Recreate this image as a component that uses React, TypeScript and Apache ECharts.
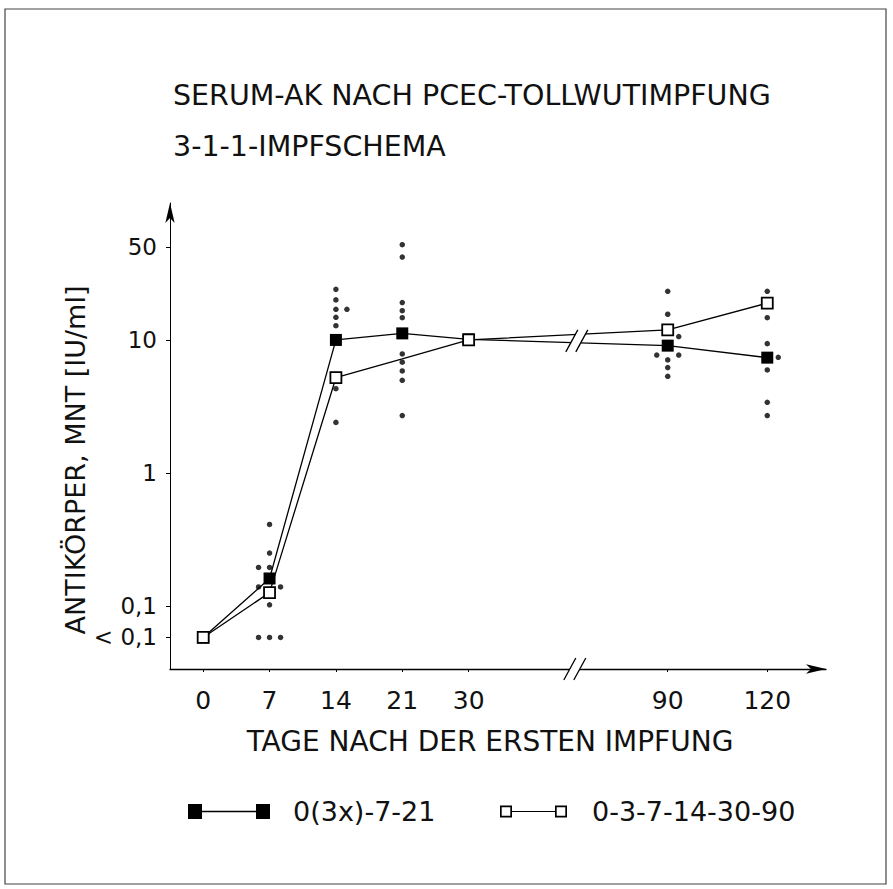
import React, { useEffect, useRef } from "react";
import * as echarts from "echarts";

// ---------- texts ----------
const titleLines = ["SERUM-AK NACH PCEC-TOLLWUTIMPFUNG", "3-1-1-IMPFSCHEMA"];
const xAxisName = "TAGE NACH DER ERSTEN IMPFUNG";
const yAxisName = "ANTIKÖRPER, MNT [IU/ml]";
const seriesNames = ["0(3x)-7-21", "0-3-7-14-30-90"];

// ---------- x axis (broken day scale) ----------
const days = ["0", "7", "14", "21", "30", "90", "120"];
// slot of each day on the broken axis (equal steps up to day 30, then a break)
const daySlots = [0, 1, 2, 3, 4, 7, 8.5];
const breakSlot = 5.63;

// ---------- y axis (log) ----------
const belowLimit = 0.058; // plotted level for "< 0,1"
const yTickValues = [belowLimit, 0.1, 1, 10, 50];
const yTickLabels = ["< 0,1", "0,1", "1", "10", "50"];
const yMin = 0.0336;
const yMax = 107;
const breakMarkLevel = 10;

// ---------- group means (IU/ml) ----------
const meansSchema1 = [belowLimit, 0.161, 10.0, 11.2, 10.1, 9.06, 7.36];
const meansSchema2 = [belowLimit, 0.126, 5.2, 7.2, 10.0, 11.9, 18.9];
const schema2MarkerShown = [true, true, true, false, true, true, true];

// ---------- individual values (IU/ml) ----------
const dotsDay7 = [0.41, 0.25, 0.195, 0.195, 0.139, 0.139, 0.102, belowLimit, belowLimit, belowLimit];
const lanesDay7 = [0, 0, -1, 0, -1, 1, 0, -1, 0, 1];
const dotsDay14 = [24.0, 20.0, 17.0, 17.0, 14.8, 12.8, 4.3, 2.4];
const lanesDay14 = [0, 0, 0, 1, 0, 0, 0, 0];
const dotsDay21 = [52, 42, 19.1, 16.6, 14.7, 7.85, 6.8, 5.85, 4.97, 2.7];
const lanesDay21 = [0, 0, 0, 0, 0, 0, 0, 0, 0, 0];
const dotsDay90 = [23.2, 15.6, 10.6, 7.7, 7.7, 7.08, 6.2, 5.33];
const lanesDay90 = [0, 0, 1, -1, 1, 0, 0, 0];
const dotsDay120 = [23.2, 14.7, 9.38, 7.4, 5.95, 3.4, 2.7];
const lanesDay120 = [0, 0, 0, 1, 0, 0, 0];

const dotGroups = [
  { day: "7", values: dotsDay7, lanes: lanesDay7 },
  { day: "14", values: dotsDay14, lanes: lanesDay14 },
  { day: "21", values: dotsDay21, lanes: lanesDay21 },
  { day: "90", values: dotsDay90, lanes: lanesDay90 },
  { day: "120", values: dotsDay120, lanes: lanesDay120 },
];

const FONT = "'DejaVu Sans', sans-serif";
const LANE = 11;

const ICON_FILLED =
  "path://M0 0H14V15H0Z M14 6.8H68V8.2H14Z M68 0H82V15H68Z";
const ICON_OPEN =
  "path://M0 1.5H12V13.5H0Z M1.7 3.2V11.8H10.3V3.2Z M12 6.9H55V8.1H12Z M55 1.5H67V13.5H55Z M56.7 3.2V11.8H65.3V3.2Z";

function slotLabel(v: number): string {
  const i = daySlots.findIndex((s) => Math.abs(s - v) < 1e-6);
  return i >= 0 ? days[i] : "";
}

function yLabel(v: number): string {
  const i = yTickValues.findIndex((t) => Math.abs(Math.log10(t) - Math.log10(v)) < 0.01);
  return i >= 0 ? yTickLabels[i] : "";
}

function breakMark(cx: number, cy: number, h: number) {
  const dx = 6;
  const sep = 5;
  return [
    {
      type: "polygon",
      z: 100,
      shape: {
        points: [
          [cx - sep - dx, cy + h],
          [cx - sep + dx, cy - h],
          [cx + sep + dx, cy - h],
          [cx + sep - dx, cy + h],
        ],
      },
      style: { fill: "#fff" },
    },
    {
      type: "line",
      z: 101,
      shape: { x1: cx - sep - dx, y1: cy + h, x2: cx - sep + dx, y2: cy - h },
      style: { stroke: "#000", lineWidth: 1.3 },
    },
    {
      type: "line",
      z: 101,
      shape: { x1: cx + sep - dx, y1: cy + h, x2: cx + sep + dx, y2: cy - h },
      style: { stroke: "#000", lineWidth: 1.3 },
    },
  ];
}

export default function App() {
  const ref = useRef<HTMLDivElement>(null);

  useEffect(() => {
    if (!ref.current) return;
    const chart = echarts.init(ref.current, undefined, { renderer: "svg" });

    const dotData: any[] = [];
    dotGroups.forEach((g) => {
      const slot = daySlots[days.indexOf(g.day)];
      g.values.forEach((v, i) => {
        dotData.push({ value: [slot, v], symbolOffset: [g.lanes[i] * LANE, 0] });
      });
    });

    const option: any = {
      animation: false,
      backgroundColor: "#fff",
      textStyle: { fontFamily: FONT, color: "#111" },
      title: {
        text: titleLines.join("\n"),
        left: 168,
        top: 65,
        textStyle: {
          fontFamily: FONT,
          fontSize: 28.5,
          fontWeight: "normal",
          color: "#111",
          lineHeight: 51,
        },
      },
      legend: [
        {
          data: [seriesNames[0]],
          left: 183,
          top: 793,
          itemWidth: 82,
          itemHeight: 15,
          icon: ICON_FILLED,
          selectedMode: false,
          itemStyle: { color: "#000", borderWidth: 0 },
          textStyle: { fontFamily: FONT, fontSize: 27, color: "#111", padding: [0, 0, 0, 18] },
        },
        {
          data: [seriesNames[1]],
          left: 495,
          top: 793,
          itemWidth: 67,
          itemHeight: 15,
          icon: ICON_OPEN,
          selectedMode: false,
          itemStyle: { color: "#000", borderWidth: 0 },
          textStyle: { fontFamily: FONT, fontSize: 27, color: "#111", padding: [0, 0, 0, 20] },
        },
      ],
      grid: { left: 170, right: 67, top: 203, bottom: 220 },
      xAxis: {
        type: "value",
        min: -0.5,
        max: 9.385,
        name: xAxisName,
        nameLocation: "middle",
        nameGap: 58,
        nameMoveOverlap: false,
        nameTextStyle: { fontFamily: FONT, fontSize: 28, color: "#111", padding: [0, 16, 0, 0] },
        axisLine: {
          show: true,
          onZero: false,
          lineStyle: { color: "#000", width: 1.3 },
          symbol: ["none", "arrow"],
          symbolSize: [7, 20],
        },
        axisTick: { show: true, customValues: daySlots, length: 3, lineStyle: { color: "#000", width: 1 } },
        axisLabel: {
          customValues: daySlots,
          formatter: (v: number) => slotLabel(v),
          margin: 19,
          fontFamily: FONT,
          fontSize: 25,
          color: "#111",
        },
        splitLine: { show: false },
      },
      yAxis: {
        type: "log",
        logBase: 10,
        min: yMin,
        max: yMax,
        name: yAxisName,
        nameLocation: "middle",
        nameRotate: 90,
        nameGap: 81,
        nameMoveOverlap: false,
        nameTextStyle: { fontFamily: FONT, fontSize: 27, color: "#111", padding: [0, 48, 0, 0] },
        axisLine: {
          show: true,
          onZero: false,
          lineStyle: { color: "#000", width: 1 },
          symbol: ["none", "arrow"],
          symbolSize: [7, 20],
        },
        axisTick: { show: true, customValues: yTickValues, length: 4, lineStyle: { color: "#000", width: 1 } },
        axisLabel: {
          customValues: yTickValues,
          formatter: (v: number) => yLabel(v),
          margin: 13,
          fontFamily: FONT,
          fontSize: 23,
          color: "#111",
        },
        splitLine: { show: false },
        minorTick: { show: false },
      },
      series: [
        {
          type: "scatter",
          name: "Einzelwerte",
          data: dotData,
          symbol: "circle",
          symbolSize: 5.5,
          itemStyle: { color: "#000" },
          z: 2,
        },
        {
          type: "line",
          name: seriesNames[0],
          data: meansSchema1.map((v, i) => [daySlots[i], v]),
          symbol: "rect",
          symbolSize: 12,
          itemStyle: { color: "#000" },
          lineStyle: { color: "#000", width: 1.3 },
          z: 3,
        },
        {
          type: "line",
          name: seriesNames[1],
          data: meansSchema2.map((v, i) => ({
            value: [daySlots[i], v],
            symbol: schema2MarkerShown[i] ? "rect" : "none",
          })),
          symbol: "rect",
          symbolSize: 11,
          itemStyle: { color: "#fff", borderColor: "#000", borderWidth: 1.8 },
          lineStyle: { color: "#000", width: 1.3 },
          z: 4,
        },
      ],
    };

    chart.setOption(option);

    const bx = chart.convertToPixel({ xAxisIndex: 0 }, breakSlot) as number;
    const axisY = chart.convertToPixel({ yAxisIndex: 0 }, yMin) as number;
    const lineY = chart.convertToPixel({ yAxisIndex: 0 }, breakMarkLevel) as number;

    chart.setOption({
      graphic: [
        {
          type: "rect",
          z: 0,
          shape: { x: 5, y: 9, width: 881, height: 875 },
          style: { fill: "none", stroke: "#444", lineWidth: 1.2 },
        },
        ...breakMark(bx, lineY + 1, 11),
        ...breakMark(bx - 2, axisY, 11),
      ],
    });

    return () => chart.dispose();
  }, []);

  return (
    <div
      ref={ref}
      style={{ position: "fixed", left: 0, top: 0, width: 893, height: 889, background: "#fff" }}
    />
  );
}
